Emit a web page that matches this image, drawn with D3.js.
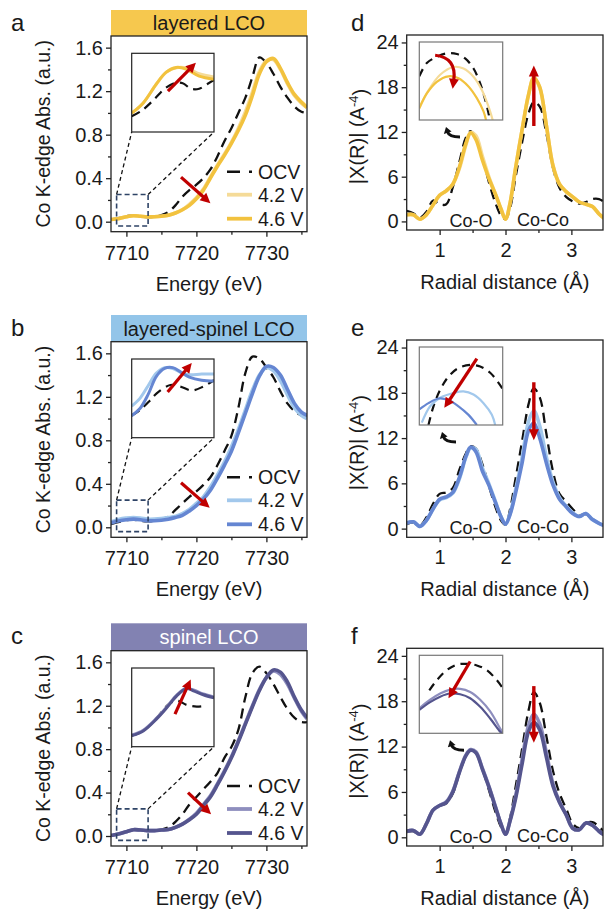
<!DOCTYPE html>
<html><head><meta charset="utf-8">
<script src="https://cdn.jsdelivr.net/npm/d3@7"></script>
<style>body{margin:0;background:#fff} text{font-family:"Liberation Sans",Arial,sans-serif;fill:#1a1a1a}</style>
</head><body><svg id="c" width="604" height="909"></svg>
<script>
// ---------------- DATA ----------------
const panelTitles = ["layered LCO", "layered-spinel LCO", "spinel LCO"];
const legendLabels = ["OCV", "4.2 V", "4.6 V"];
const bondLabels = ["Co-O", "Co-Co"];
const panelLetters = ["a", "b", "c", "d", "e", "f"];

const energy = [7707.8,7709,7710,7711,7712,7713,7714,7715,7716,7717,7718,7719,7720,7721,7722,7723,7724,7725,7726,7727,7728,7729,7730,7731,7732,7733,7734,7735,7735.8];
const aOCV = [0.02,0.035,0.05,0.06,0.05,0.04,0.045,0.06,0.09,0.15,0.23,0.29,0.34,0.40,0.48,0.60,0.74,0.86,1.00,1.14,1.33,1.51,1.46,1.36,1.24,1.14,1.06,1.01,1.00];
const a42  = [0.02,0.03,0.045,0.055,0.05,0.045,0.045,0.05,0.06,0.08,0.11,0.16,0.22,0.30,0.41,0.52,0.62,0.73,0.86,1.01,1.19,1.38,1.48,1.49,1.40,1.27,1.16,1.09,1.05];
const a46  = [0.02,0.03,0.045,0.055,0.05,0.045,0.045,0.05,0.06,0.08,0.11,0.15,0.21,0.29,0.40,0.51,0.61,0.72,0.84,0.98,1.16,1.36,1.47,1.50,1.41,1.28,1.17,1.10,1.05];
const bOCV = [0.03,0.05,0.065,0.07,0.06,0.055,0.06,0.075,0.10,0.16,0.22,0.28,0.33,0.39,0.46,0.57,0.70,0.84,1.10,1.42,1.57,1.55,1.47,1.38,1.25,1.14,1.07,1.03,1.02];
const b42  = [0.05,0.075,0.085,0.09,0.085,0.075,0.075,0.08,0.09,0.10,0.125,0.165,0.22,0.28,0.37,0.48,0.60,0.74,0.90,1.08,1.26,1.40,1.47,1.44,1.35,1.22,1.10,1.03,1.00];
const b46  = [0.04,0.06,0.07,0.075,0.07,0.06,0.06,0.065,0.075,0.09,0.11,0.15,0.20,0.26,0.34,0.45,0.57,0.70,0.87,1.05,1.23,1.39,1.48,1.47,1.40,1.27,1.14,1.06,1.03];
const cOCV = [0.005,0.02,0.04,0.06,0.055,0.05,0.05,0.06,0.08,0.13,0.20,0.29,0.36,0.43,0.50,0.58,0.72,0.82,0.98,1.28,1.50,1.56,1.50,1.40,1.28,1.17,1.09,1.05,1.05];
const c42  = [0.005,0.02,0.04,0.058,0.055,0.05,0.05,0.055,0.06,0.08,0.11,0.155,0.21,0.29,0.37,0.48,0.60,0.73,0.88,1.04,1.20,1.35,1.46,1.52,1.49,1.40,1.27,1.15,1.08];
const c46  = [0.005,0.02,0.04,0.058,0.055,0.05,0.05,0.055,0.06,0.08,0.11,0.15,0.20,0.28,0.36,0.47,0.59,0.72,0.87,1.03,1.19,1.34,1.46,1.53,1.51,1.42,1.28,1.16,1.09];

const radial = [0.5,0.6,0.7,0.8,0.9,1.0,1.1,1.2,1.3,1.4,1.47,1.55,1.65,1.75,1.85,1.93,2.0,2.07,2.15,2.25,2.35,2.43,2.52,2.62,2.72,2.82,2.92,3.02,3.12,3.22,3.32,3.42,3.5];
const dOCV = [1.4,1.1,0.5,1.3,2.8,2.3,2.3,4.6,8.0,11.3,12.1,11.2,8.6,5.2,2.4,0.8,0.3,1.8,5.8,10.5,14.5,16.0,15.4,11.8,7.2,4.5,3.3,2.7,2.4,2.6,3.0,3.0,2.6];
const d42  = [0.9,0.9,0.3,0.9,2.2,3.5,4.1,5.0,7.1,10.3,11.9,11.5,8.7,5.9,3.6,1.7,0.3,2.5,7.0,12.2,17.0,19.2,17.9,12.9,7.5,5.0,4.0,3.3,2.6,2.3,2.0,1.0,0.4];
const d46  = [0.9,0.9,0.3,0.9,2.2,3.5,4.1,5.0,7.3,10.5,11.9,11.0,8.2,5.7,3.6,1.7,0.3,2.5,7.0,12.2,17.0,19.3,18.0,12.9,7.5,5.0,4.0,3.3,2.6,2.3,2.0,1.0,0.4];
const eOCV = [0.6,0.8,0.4,1.5,3.3,4.6,4.8,5.4,7.8,10.0,10.9,10.6,8.5,5.6,2.8,1.1,0.5,2.6,6.5,11.5,16.5,18.6,17.4,12.6,7.6,4.6,3.6,2.6,1.8,1.9,1.3,0.7,0.5];
const e42  = [0.75,0.9,0.3,1.1,2.6,3.8,4.1,4.7,6.6,9.5,10.7,10.5,8.0,5.9,3.5,1.6,0.6,2.0,5.0,9.3,14.2,15.6,13.6,9.5,6.2,4.1,3.0,2.1,1.6,2.0,1.2,0.7,0.4];
const e46  = [0.75,0.9,0.3,1.1,2.6,3.9,4.2,4.8,6.8,9.6,10.8,10.2,7.6,5.7,3.4,1.6,0.6,1.9,4.6,8.6,13.0,14.0,12.0,8.7,5.8,3.9,2.9,2.0,1.6,2.0,1.2,0.7,0.4];
const fOCV = [0.7,0.8,0.4,1.8,3.6,4.2,4.5,5.8,8.5,10.8,11.6,11.2,9.0,6.2,3.3,1.4,0.4,2.6,6.5,11.6,16.8,19.2,17.8,13.4,8.8,5.8,3.8,1.8,1.2,1.9,2.0,1.4,0.7];
const f42  = [0.8,0.9,0.4,1.8,3.6,4.2,4.7,6.1,8.7,10.9,11.6,11.3,9.1,6.7,4.0,1.8,0.4,2.3,5.3,10.2,14.8,16.3,15.0,11.2,7.1,4.7,3.0,1.2,1.0,1.9,1.6,0.8,0.3];
const f46  = [0.8,0.9,0.4,1.8,3.6,4.2,4.6,6.0,8.6,10.8,11.5,11.2,9.0,6.6,3.9,1.8,0.4,2.2,5.0,9.6,14.0,15.2,14.2,10.6,6.8,4.6,3.0,1.2,1.0,1.9,1.6,0.8,0.3];

// insets: [fraction across, fraction up] of the magnified window
const aInOCV = [[0,0.20],[0.12,0.27],[0.26,0.40],[0.40,0.55],[0.52,0.62],[0.62,0.62],[0.72,0.55],[0.82,0.55],[0.92,0.61],[1,0.66]];
const aIn42  = [[0,0.24],[0.14,0.37],[0.30,0.61],[0.42,0.76],[0.56,0.82],[0.68,0.81],[0.82,0.74],[1,0.70]];
const aIn46  = [[0,0.24],[0.14,0.37],[0.30,0.61],[0.42,0.76],[0.54,0.82],[0.66,0.80],[0.82,0.71],[1,0.67]];
const bInOCV = [[0,0.28],[0.1,0.35],[0.22,0.47],[0.30,0.56],[0.47,0.67],[0.59,0.65],[0.73,0.60],[0.87,0.65],[1,0.73]];
const bIn42  = [[0,0.40],[0.1,0.50],[0.2,0.66],[0.3,0.82],[0.4,0.89],[0.5,0.88],[0.6,0.83],[0.7,0.80],[0.85,0.81],[1,0.81]];
const bIn46  = [[0,0.28],[0.1,0.37],[0.2,0.55],[0.3,0.78],[0.4,0.88],[0.5,0.89],[0.6,0.83],[0.7,0.77],[0.85,0.73],[1,0.72]];
const cInOCV = [[0,0.14],[0.14,0.20],[0.30,0.36],[0.45,0.54],[0.55,0.585],[0.67,0.53],[0.79,0.51],[0.90,0.52]];
const cIn42  = [[0,0.15],[0.14,0.21],[0.30,0.36],[0.43,0.51],[0.55,0.66],[0.66,0.74],[0.75,0.72],[0.87,0.67],[1,0.63]];
const cIn46  = [[0,0.14],[0.14,0.20],[0.30,0.35],[0.43,0.50],[0.55,0.65],[0.67,0.74],[0.75,0.71],[0.87,0.66],[1,0.62]];
const dInOCV = [[0,0.56],[0.09,0.73],[0.21,0.81],[0.33,0.855],[0.45,0.846],[0.55,0.79],[0.65,0.66],[0.73,0.47],[0.79,0.26],[0.83,0.086],[0.845,0]];
const dIn42  = [[0,0.15],[0.11,0.38],[0.25,0.58],[0.41,0.68],[0.53,0.66],[0.65,0.555],[0.75,0.385],[0.83,0.17],[0.88,0]];
const dIn46  = [[0,0.15],[0.09,0.34],[0.21,0.49],[0.35,0.56],[0.47,0.535],[0.59,0.43],[0.69,0.28],[0.77,0.11],[0.80,0]];
const eInOCV = [[0.11,0],[0.17,0.24],[0.25,0.45],[0.35,0.62],[0.47,0.73],[0.61,0.77],[0.73,0.75],[0.85,0.67],[0.95,0.54],[1,0.46]];
const eIn42  = [[0.03,0.03],[0.13,0.24],[0.25,0.35],[0.41,0.41],[0.53,0.43],[0.65,0.39],[0.77,0.28],[0.87,0.13],[0.91,0]];
const eIn46  = [[0,0.2],[0.11,0.28],[0.23,0.34],[0.35,0.32],[0.47,0.24],[0.59,0.13],[0.69,0]];
const fInOCV = [[0.12,0.55],[0.21,0.68],[0.33,0.81],[0.45,0.88],[0.57,0.89],[0.69,0.87],[0.81,0.81],[0.93,0.68],[1,0.58]];
const fIn42  = [[0,0.32],[0.13,0.43],[0.25,0.51],[0.37,0.56],[0.49,0.57],[0.61,0.53],[0.73,0.43],[0.85,0.28],[0.97,0.06],[1,0]];
const fIn46  = [[0,0.30],[0.13,0.40],[0.25,0.47],[0.37,0.51],[0.49,0.50],[0.61,0.45],[0.73,0.34],[0.85,0.19],[0.97,0.02],[0.99,0]];

const xanesXTicks = [7710, 7720, 7730], xanesXMinor = [7715, 7725, 7735];
const xanesYTicks = [0, 0.4, 0.8, 1.2, 1.6], xanesYMinor = [0.2, 0.6, 1.0, 1.4];
const exafsXTicks = [1, 2, 3], exafsXMinor = [1.5, 2.5];
const exafsYTicks = [0, 6, 12, 18, 24], exafsYMinor = [3, 9, 15, 21];

// ---------------- STYLE / LAYOUT ----------------
const barColors = ["#F6C84E", "#93C5E9", "#8282B2"];
const barText = ["#1a1a1a", "#1a1a1a", "#ffffff"];
const col42 = ["#F5DB98", "#A2C8EC", "#8E8EBE"];
const col46 = ["#F2C23E", "#6586D2", "#55558E"];
const RED = "#C00000";
const leftRows = [{T:36,B:231.7,bar:10},{T:341.7,B:537.3,bar:315},{T:650.7,B:846,bar:623.3}];
const rightRows = [{T:35,B:230},{T:340,B:537.3},{T:648.3,B:846}];
const LX = [111, 307], RX = [406.7, 603];
const TICK_FS = 20;

const xanesSets = [[aOCV,a42,a46],[bOCV,b42,b46],[cOCV,c42,c46]];
const exafsSets = [[dOCV,d42,d46],[eOCV,e42,e46],[fOCV,f42,f46]];
const xInsets = [[aInOCV,aIn42,aIn46],[bInOCV,bIn42,bIn46],[cInOCV,cIn42,cIn46]];
const rInsets = [[dInOCV,dIn42,dIn46],[eInOCV,eIn42,eIn46],[fInOCV,fIn42,fIn46]];

const svg = d3.select("#c");
const defs = svg.append("defs");

function arrow(g, x1, y1, x2, y2, color, w, hl, hw) {
  const dx = x2 - x1, dy = y2 - y1, len = Math.hypot(dx, dy), ux = dx/len, uy = dy/len;
  const bx = x2 - ux*hl, by = y2 - uy*hl;
  g.append("line").attr("x1", x1).attr("y1", y1).attr("x2", bx + ux*1.5).attr("y2", by + uy*1.5)
    .attr("stroke", color).attr("stroke-width", w);
  g.append("path").attr("d", `M${x2},${y2}L${bx - uy*hw/2},${by + ux*hw/2}L${bx + uy*hw/2},${by - ux*hw/2}Z`).attr("fill", color);
}
function curvedArrow(g, x0, y0, cx, cy, x2, y2, color, w, hl, hw) {
  const dx = x2 - cx, dy = y2 - cy, len = Math.hypot(dx, dy), ux = dx/len, uy = dy/len;
  const bx = x2 - ux*hl, by = y2 - uy*hl;
  g.append("path").attr("d", `M${x0},${y0}Q${cx},${cy} ${bx + ux*1.5},${by + uy*1.5}`)
    .attr("fill", "none").attr("stroke", color).attr("stroke-width", w);
  g.append("path").attr("d", `M${x2},${y2}L${bx - uy*hw/2},${by + ux*hw/2}L${bx + uy*hw/2},${by - ux*hw/2}Z`).attr("fill", color);
}

function drawAxes(g, x, y, xT, xM, yT, yM, yFmt, B, xPad) {
  const ax = g.append("g").attr("transform", `translate(0,${B})`)
    .call(d3.axisBottom(x).tickValues(xT).tickSize(5).tickSizeOuter(0).tickPadding(xPad).tickFormat(d3.format("d")));
  const axm = g.append("g").attr("transform", `translate(0,${B})`)
    .call(d3.axisBottom(x).tickValues(xM).tickSize(3).tickSizeOuter(0).tickFormat(""));
  const ay = g.append("g").attr("transform", `translate(${x.range()[0]},0)`)
    .call(d3.axisLeft(y).tickValues(yT).tickSize(5).tickSizeOuter(0).tickPadding(3).tickFormat(yFmt));
  const aym = g.append("g").attr("transform", `translate(${x.range()[0]},0)`)
    .call(d3.axisLeft(y).tickValues(yM).tickSize(3).tickSizeOuter(0).tickFormat(""));
  [ax, axm, ay, aym].forEach(a => {
    a.select(".domain").remove();
    a.selectAll("line").attr("stroke", "#222").attr("stroke-width", 1.3);
    a.selectAll("text").attr("font-size", TICK_FS).attr("fill", "#1a1a1a");
  });
}

// ---------- XANES panels ----------
for (let i = 0; i < 3; i++) {
  const row = leftRows[i];
  const g = svg.append("g");
  const x = d3.scaleLinear().domain([7707.8, 7735.8]).range(LX);
  const y = d3.scaleLinear().domain([-0.092, 1.707]).range([row.B, row.T]);
  const cid = "clipL" + i;
  defs.append("clipPath").attr("id", cid).append("rect")
    .attr("x", LX[0]).attr("y", row.T).attr("width", LX[1]-LX[0]).attr("height", row.B-row.T);

  // title bar
  g.append("rect").attr("x", LX[0]).attr("y", row.bar).attr("width", LX[1]-LX[0]).attr("height", row.T-row.bar)
    .attr("fill", barColors[i]);
  g.append("text").attr("x", (LX[0]+LX[1])/2).attr("y", (row.bar+row.T)/2).attr("dy", "0.36em")
    .attr("text-anchor", "middle").attr("font-size", 20).style("fill", barText[i]).text(panelTitles[i]);

  const line = d3.line().x((d, k) => x(energy[k])).y(d => y(d)).curve(d3.curveCatmullRom.alpha(0.5));
  const cg = g.append("g").attr("clip-path", `url(#${cid})`);
  const [ocv, s42, s46] = xanesSets[i];
  cg.append("path").attr("d", line(ocv)).attr("fill", "none").attr("stroke", "#111").attr("stroke-width", 2.3).attr("stroke-dasharray", "10,6");
  cg.append("path").attr("d", line(s42)).attr("fill", "none").attr("stroke", col42[i]).attr("stroke-width", 3.6);
  cg.append("path").attr("d", line(s46)).attr("fill", "none").attr("stroke", col46[i]).attr("stroke-width", 3.6);

  // frame
  g.append("rect").attr("x", LX[0]).attr("y", row.T).attr("width", LX[1]-LX[0]).attr("height", row.B-row.T)
    .attr("fill", "none").attr("stroke", "#222").attr("stroke-width", 1.3);
  drawAxes(g, x, y, xanesXTicks, xanesXMinor, xanesYTicks, xanesYMinor, d3.format(".1f"), row.B, 9);

  // zoom box & inset
  const bx0 = x(7708.6), bx1 = x(7713.1), by0 = y(0.25), by1 = y(-0.04);
  const ix0 = 131.7, ix1 = 214, iy0 = row.T + 17.3, iy1 = row.T + 96;
  g.append("line").attr("x1", bx0).attr("y1", by0).attr("x2", ix0).attr("y2", iy1)
    .attr("stroke", "#111").attr("stroke-width", 1.3).attr("stroke-dasharray", "4,3");
  g.append("line").attr("x1", bx1).attr("y1", by0).attr("x2", ix1).attr("y2", iy1)
    .attr("stroke", "#111").attr("stroke-width", 1.3).attr("stroke-dasharray", "4,3");
  g.append("rect").attr("x", bx0).attr("y", by0).attr("width", bx1-bx0).attr("height", by1-by0)
    .attr("fill", "none").attr("stroke", "#2E4366").attr("stroke-width", 1.6).attr("stroke-dasharray", "5,3");

  g.append("rect").attr("x", ix0).attr("y", iy0).attr("width", ix1-ix0).attr("height", iy1-iy0).attr("fill", "#fff");
  const ixs = d3.scaleLinear().domain([0, 1]).range([ix0, ix1]);
  const iys = d3.scaleLinear().domain([0, 1]).range([iy1, iy0]);
  const icid = "clipLI" + i;
  defs.append("clipPath").attr("id", icid).append("rect").attr("x", ix0).attr("y", iy0).attr("width", ix1-ix0).attr("height", iy1-iy0);
  const il = d3.line().x(d => ixs(d[0])).y(d => iys(d[1])).curve(d3.curveCatmullRom.alpha(0.5));
  const ig = g.append("g").attr("clip-path", `url(#${icid})`);
  const [iO, i42, i46] = xInsets[i];
  ig.append("path").attr("d", il(iO)).attr("fill", "none").attr("stroke", "#111").attr("stroke-width", 2.2).attr("stroke-dasharray", "9,6");
  ig.append("path").attr("d", il(i42)).attr("fill", "none").attr("stroke", col42[i]).attr("stroke-width", 3);
  ig.append("path").attr("d", il(i46)).attr("fill", "none").attr("stroke", col46[i]).attr("stroke-width", 3);
  g.append("rect").attr("x", ix0).attr("y", iy0).attr("width", ix1-ix0).attr("height", iy1-iy0)
    .attr("fill", "none").attr("stroke", "#222").attr("stroke-width", 1.2);

  // red arrows
  const inArr = [[0.44,0.52,0.78,0.88],[0.437,0.58,0.73,0.95],[0.526,0.415,0.717,0.855]][i];
  arrow(g, ixs(inArr[0]), iys(inArr[1]), ixs(inArr[2]), iys(inArr[3]), RED, 3.2, 10, 10);
  const mainArr = [[7717.8,0.41,7722,0.17],[7717.8,0.41,7721.9,0.18],[7718.8,0.40,7722.1,0.20]][i];
  arrow(g, x(mainArr[0]), y(mainArr[1]), x(mainArr[2]), y(mainArr[3]), RED, 3.2, 10, 10);

  // legend
  const ly = [row.B - 60, row.B - 37, row.B - 13];
  const lcols = ["#111", col42[i], col46[i]];
  legendLabels.forEach((lab, k) => {
    const ln = g.append("line").attr("x1", 227).attr("x2", 252).attr("y1", ly[k]).attr("y2", ly[k])
      .attr("stroke", lcols[k]).attr("stroke-width", k === 0 ? 2.6 : 3.8);
    if (k === 0) ln.attr("stroke-dasharray", "13,9");
    g.append("text").attr("x", 258).attr("y", ly[k]).attr("dy", "0.36em").attr("font-size", 19.5).text(lab);
  });

  // labels
  g.append("text").attr("transform", `translate(50,${(row.T+row.B)/2}) rotate(-90)`).attr("text-anchor", "middle")
    .attr("font-size", 19.5).text("Co K-edge Abs. (a.u.)");
  g.append("text").attr("x", (LX[0]+LX[1])/2).attr("y", row.B + 59).attr("text-anchor", "middle")
    .attr("font-size", 20).text("Energy (eV)");
  g.append("text").attr("x", 11).attr("y", row.bar + 21).attr("font-size", 24).text(panelLetters[i]);
}

// ---------- EXAFS panels ----------
for (let i = 0; i < 3; i++) {
  const row = rightRows[i];
  const g = svg.append("g");
  const x = d3.scaleLinear().domain([0.5, 3.48]).range(RX);
  const y = d3.scaleLinear().domain([-1.15, 25.0]).range([row.B, row.T]);
  const cid = "clipR" + i;
  defs.append("clipPath").attr("id", cid).append("rect")
    .attr("x", RX[0]).attr("y", row.T).attr("width", RX[1]-RX[0]).attr("height", row.B-row.T);
  const line = d3.line().x((d, k) => x(radial[k])).y(d => y(d)).curve(d3.curveCatmullRom.alpha(0.5));
  const cg = g.append("g").attr("clip-path", `url(#${cid})`);
  const [ocv, s42, s46] = exafsSets[i];
  cg.append("path").attr("d", line(ocv)).attr("fill", "none").attr("stroke", "#111").attr("stroke-width", 2.3).attr("stroke-dasharray", "10,6");
  cg.append("path").attr("d", line(s42)).attr("fill", "none").attr("stroke", col42[i]).attr("stroke-width", 3.6);
  cg.append("path").attr("d", line(s46)).attr("fill", "none").attr("stroke", col46[i]).attr("stroke-width", 3.6);

  g.append("rect").attr("x", RX[0]).attr("y", row.T).attr("width", RX[1]-RX[0]).attr("height", row.B-row.T)
    .attr("fill", "none").attr("stroke", "#222").attr("stroke-width", 1.3);
  drawAxes(g, x, y, exafsXTicks, exafsXMinor, exafsYTicks, exafsYMinor, d3.format("d"), row.B, 8);

  // inset
  const ix0 = 419.3, ix1 = 502.7, iy0 = row.T + 7, iy1 = row.T + 85;
  g.append("rect").attr("x", ix0).attr("y", iy0).attr("width", ix1-ix0).attr("height", iy1-iy0).attr("fill", "#fff");
  const ixs = d3.scaleLinear().domain([0, 1]).range([ix0, ix1]);
  const iys = d3.scaleLinear().domain([0, 1]).range([iy1, iy0]);
  const icid = "clipRI" + i;
  defs.append("clipPath").attr("id", icid).append("rect").attr("x", ix0).attr("y", iy0).attr("width", ix1-ix0).attr("height", iy1-iy0);
  const il = d3.line().x(d => ixs(d[0])).y(d => iys(d[1])).curve(d3.curveCatmullRom.alpha(0.5));
  const ig = g.append("g").attr("clip-path", `url(#${icid})`);
  const [iO, i42, i46] = rInsets[i];
  ig.append("path").attr("d", il(iO)).attr("fill", "none").attr("stroke", "#111").attr("stroke-width", 2.2).attr("stroke-dasharray", "8,6");
  ig.append("path").attr("d", il(i42)).attr("fill", "none").attr("stroke", col42[i]).attr("stroke-width", 2.2);
  ig.append("path").attr("d", il(i46)).attr("fill", "none").attr("stroke", col46[i]).attr("stroke-width", 2.2);
  g.append("rect").attr("x", ix0).attr("y", iy0).attr("width", ix1-ix0).attr("height", iy1-iy0)
    .attr("fill", "none").attr("stroke", "#777").attr("stroke-width", 1.2);

  // red arrows
  if (i === 0) {
    curvedArrow(g, ixs(0.19), iys(0.83), ixs(0.45), iys(0.80), ixs(0.40), iys(0.40), RED, 3.2, 10, 10);
  } else {
    const a = [null, [0.69,0.85,0.30,0.22], [0.61,0.92,0.35,0.45]][i];
    arrow(g, ixs(a[0]), iys(a[1]), ixs(a[2]), iys(a[3]), RED, 3.2, 10, 10);
  }
  const m = [[12.8,20.9],[19.4,11.7],[20.0,12.5]][i];
  arrow(g, x(2.43), y(m[0]), x(2.43), y(m[1]), RED, 3.4, 11, 10);

  // black curved arrow from Co-O peak to inset
  const bxA = [446, 442, 450][i], byA = iy1 + 7;
  curvedArrow(g, bxA + 14, byA + 10, bxA + 3, byA + 10, bxA, byA, "#111", 3, 6, 8);

  // bond labels
  g.append("text").attr("x", 471).attr("y", row.B - 3).attr("text-anchor", "middle").attr("font-size", 18).text(bondLabels[0]);
  g.append("text").attr("x", 543).attr("y", row.B - 4).attr("text-anchor", "middle").attr("font-size", 18).text(bondLabels[1]);

  // axis labels
  const yl = g.append("text").attr("transform", `translate(364,${(row.T+row.B)/2 + 4}) rotate(-90)`).attr("text-anchor", "middle").attr("font-size", 20);
  yl.append("tspan").text("|X(R)| (A");
  yl.append("tspan").attr("dy", "-0.45em").attr("font-size", 13).text("-4");
  yl.append("tspan").attr("dy", "0.45em").text(")");
  g.append("text").attr("x", (RX[0]+RX[1])/2).attr("y", row.B + 59).attr("text-anchor", "middle")
    .attr("font-size", 20).text("Radial distance (Å)");
  g.append("text").attr("x", 351).attr("y", row.T - 4).attr("font-size", 24).text(panelLetters[i+3]);
}
</script></body></html>
